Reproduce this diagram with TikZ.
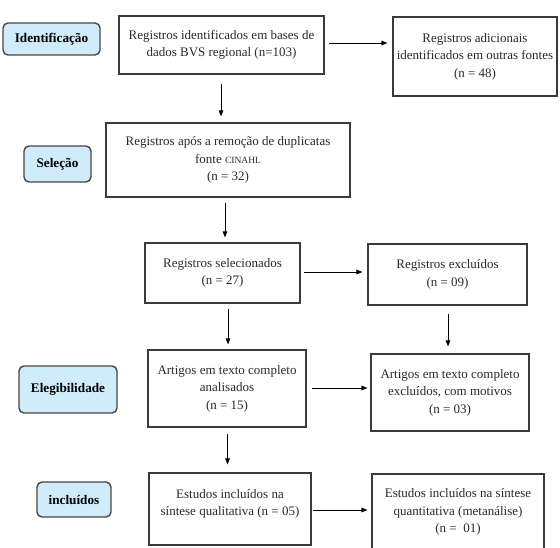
\documentclass[tikz,border=0pt]{standalone}
\usepackage{fontspec}
\setmainfont{Liberation Serif}
\usetikzlibrary{arrows.meta,calc}
\definecolor{boxline}{HTML}{3A3A3A}
\definecolor{lblfill}{HTML}{D0ECFB}
\definecolor{lblline}{HTML}{454545}
\definecolor{txt}{HTML}{2A2A2A}
\tikzset{
  flowbox/.style={draw=boxline, line width=1.1pt, fill=white, inner sep=0pt, align=center,
    text=txt, font=\fontsize{13pt}{17.5pt}\selectfont},
  stagelbl/.style={draw=lblline, line width=1.4pt, fill=lblfill, rounded corners=5pt,
    inner sep=0pt, align=center, font=\fontsize{13.2pt}{15pt}\selectfont\bfseries, text=black},
  arr/.style={draw=black, line width=0.9pt, -{Triangle[length=6pt,width=4.5pt]}}
}
\begin{document}
\begin{tikzpicture}[x=1pt,y=-1pt]
\useasboundingbox (0,0) rectangle (560,548);
% stage labels
\node[stagelbl, minimum width=97pt, minimum height=32pt] (L1) at (51.5,39) {Identificação};
\node[stagelbl, minimum width=67pt, minimum height=36pt] (L2) at (57.5,164) {Seleção};
\node[stagelbl, minimum width=98pt, minimum height=47pt] (L3) at (68,389.5) {Elegibilidade};
\node[stagelbl, minimum width=74pt, minimum height=35pt] (L4) at (74,499.5) {incluídos};
% boxes
\node[flowbox, minimum width=205pt, minimum height=58pt] (b1) at (221.5,45)
  {Registros identificados em bases de\\dados BVS regional (n=103)};
\node[flowbox, minimum width=164pt, minimum height=79pt] (b2) at (475,56.5)
  {Registros adicionais\\identificados em outras fontes\\(n = 48)};
\node[flowbox, minimum width=244pt, minimum height=74pt] (b3) at (228,160)
  {Registros após a remoção de duplicatas\\fonte {\fontsize{9.5pt}{17.5pt}\selectfont CINAHL}\\(n = 32)};
\node[flowbox, minimum width=155pt, minimum height=60pt] (b4) at (222.5,273)
  {Registros selecionados\\(n = 27)};
\node[flowbox, minimum width=159pt, minimum height=61pt] (b5) at (447.5,274.5)
  {Registros excluídos\\(n = 09)};
\node[flowbox, minimum width=158pt, minimum height=77pt] (b6) at (227,388.5)
  {Artigos em texto completo\\analisados\\(n = 15)};
\node[flowbox, minimum width=158pt, minimum height=77pt] (b7) at (450,392.5)
  {Artigos em texto completo\\excluídos, com motivos\\(n = 03)};
\node[flowbox, minimum width=162pt, minimum height=72pt] (b8) at (230,509)
  {Estudos incluídos na\\síntese qualitativa (n = 05)\\[-4pt]\mbox{}};
\node[flowbox, minimum width=172pt, minimum height=76pt] (b9) at (458,512)
  {Estudos incluídos na síntese\\quantitativa (metanálise)\\(n =\ \ 01)};
% connectors
\draw[arr, shorten <=4pt, shorten >=5pt] (b1.east |- 0,43) -- (b2.west |- 0,43);
\draw[arr, shorten <=9pt, shorten >=6pt] (b1.south -| 221,0) -- (b3.north -| 221,0);
\draw[arr, shorten <=5pt, shorten >=5pt] (b3.south -| 225,0) -- (b4.north -| 225,0);
\draw[arr, shorten <=3pt, shorten >=5pt] (b4.east |- 0,272) -- (b5.west |- 0,272);
\draw[arr, shorten <=5pt, shorten >=5pt] (b4.south -| 228,0) -- (b6.north -| 228,0);
\draw[arr, shorten <=8pt, shorten >=7pt] (b5.south -| 448,0) -- (b7.north -| 448,0);
\draw[arr, shorten <=5pt, shorten >=3pt] (b6.east |- 0,388) -- (b7.west |- 0,388);
\draw[arr, shorten <=6pt, shorten >=8pt] (b6.south -| 227.5,0) -- (b8.north -| 227.5,0);
\draw[arr, shorten <=1pt, shorten >=4pt] (b8.east |- 0,510) -- (b9.west |- 0,510);
\end{tikzpicture}
\end{document}
